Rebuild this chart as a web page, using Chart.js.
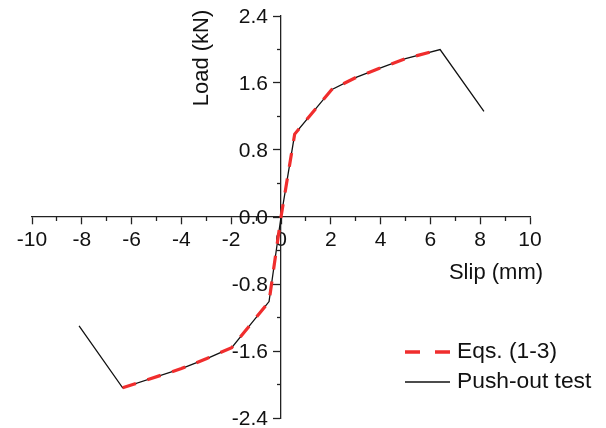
<!DOCTYPE html>
<html><head><meta charset="utf-8">
<script src="https://cdn.jsdelivr.net/npm/chart.js@4"></script>
<style>html,body{margin:0;padding:0;background:#fff}#wrap{width:606px;height:428px}</style>
</head><body><div id="wrap"><canvas id="c" width="606" height="428"></canvas></div>
<script>
// Data
const testSlip = [-8.11, -6.36, -4.0, -2.98, -1.98, -0.48, 0, 0.55, 2.03, 3.04, 4.0, 5.0, 6.39, 8.15];
const testLoad = [-1.30, -2.04, -1.81, -1.69, -1.56, -1.01, 0, 0.99, 1.52, 1.67, 1.78, 1.89, 2.00, 1.26];
const eqSlip = [-6.36, -4.0, -2.98, -1.98, -0.48, 0, 0.55, 2.03, 3.04, 4.0, 5.0, 6.39];
const eqLoad = [-2.04, -1.81, -1.69, -1.56, -1.01, 0, 0.99, 1.52, 1.67, 1.78, 1.89, 2.00];
const xTickValues = [-10, -8, -6, -4, -2, 0, 2, 4, 6, 8, 10];
const xMinorValues = [-9, -7, -5, -3, -1, 1, 3, 5, 7, 9];
const yTickValues = [-2.4, -1.6, -0.8, 0.0, 0.8, 1.6, 2.4];
const yTickLabels = ['-2.4', '-1.6', '-0.8', '0.0', '0.8', '1.6', '2.4'];
const yMinorValues = [-2.0, -1.2, -0.4, 0.4, 1.2, 2.0];
const seriesNames = ['Eqs. (1-3)', 'Push-out test'];
const xTitle = 'Slip (mm)';
const yTitle = 'Load (kN)';

const FONT = '"Liberation Sans", Arial, sans-serif';
const AXIS_COLOR = '#222';
const RED = 'rgb(240,45,45)';

function zeroFit(s) {
  if (s.isHorizontal()) s.height = 0; else s.width = 0;
  s.paddingLeft = s.paddingRight = s.paddingTop = s.paddingBottom = 0;
}
function setTicks(vals) {
  return function (s) { s.ticks = vals.map(v => ({ value: v })); };
}

const annot = {
  id: 'annot',
  afterDraw(chart) {
    const ctx = chart.ctx;
    const xs = chart.scales.x, ys = chart.scales.y;
    ctx.save();
    ctx.fillStyle = '#111';
    // y tick labels, left of the centred y axis
    ctx.font = '21px ' + FONT;
    ctx.textAlign = 'right';
    ctx.textBaseline = 'middle';
    const ax = xs.getPixelForValue(0);
    yTickValues.forEach((v, i) => {
      ctx.fillText(yTickLabels[i], ax - 13, ys.getPixelForValue(v) + 1);
    });
    // axis titles
    ctx.font = '22px ' + FONT;
    ctx.textAlign = 'center';
    ctx.fillText(xTitle, 496, 273);
    ctx.save();
    ctx.translate(202, 58);
    ctx.rotate(-Math.PI / 2);
    ctx.fillText(yTitle, 0, 0);
    ctx.restore();
    // legend
    ctx.font = '22.8px ' + FONT;
    ctx.textAlign = 'left';
    ctx.fillText(seriesNames[0], 457, 352);
    ctx.fillText(seriesNames[1], 457, 382);
    ctx.strokeStyle = RED;
    ctx.lineWidth = 3.5;
    ctx.setLineDash([15, 15]);
    ctx.beginPath(); ctx.moveTo(405, 352); ctx.lineTo(450, 352); ctx.stroke();
    ctx.setLineDash([]);
    ctx.strokeStyle = '#111';
    ctx.lineWidth = 1.5;
    ctx.beginPath(); ctx.moveTo(405, 382); ctx.lineTo(450, 382); ctx.stroke();
    ctx.restore();
  }
};

new Chart(document.getElementById('c'), {
  type: 'line',
  data: {
    datasets: [
      {
        label: seriesNames[0],
        data: eqSlip.map((x, i) => ({ x: x, y: eqLoad[i] })),
        borderColor: RED,
        borderWidth: 3.2,
        borderDash: [14, 12],
        pointRadius: 0,
        tension: 0,
        fill: false,
        xAxisID: 'x', yAxisID: 'y'
      },
      {
        label: seriesNames[1],
        data: testSlip.map((x, i) => ({ x: x, y: testLoad[i] })),
        borderColor: '#111',
        borderWidth: 1.3,
        pointRadius: 0,
        tension: 0,
        fill: false,
        xAxisID: 'x', yAxisID: 'y'
      }
    ]
  },
  options: {
    responsive: false,
    animation: false,
    devicePixelRatio: 1,
    layout: { padding: { left: 32, right: 76, top: 16, bottom: 10 } },
    plugins: { legend: { display: false }, tooltip: { enabled: false } },
    scales: {
      x: {
        type: 'linear', min: -10, max: 10,
        position: { y: 0 },
        afterBuildTicks: setTicks(xTickValues),
        afterFit: zeroFit,
        grid: { drawOnChartArea: false, drawTicks: true, tickLength: 7, tickColor: AXIS_COLOR, tickWidth: 1.3 },
        border: { display: true, color: AXIS_COLOR, width: 1.3 },
        ticks: { autoSkip: false, maxRotation: 0, padding: 4, color: '#111', font: { family: FONT, size: 21 },
          callback: v => String(v) }
      },
      xm: {
        type: 'linear', min: -10, max: 10,
        position: { y: 0 },
        afterBuildTicks: setTicks(xMinorValues),
        afterFit: zeroFit,
        grid: { drawOnChartArea: false, drawTicks: true, tickLength: 4, tickColor: AXIS_COLOR, tickWidth: 1.3 },
        border: { display: false },
        ticks: { display: false, autoSkip: false }
      },
      y: {
        type: 'linear', min: -2.4, max: 2.4,
        position: { x: 0 },
        afterBuildTicks: setTicks(yTickValues),
        afterFit: zeroFit,
        grid: { drawOnChartArea: false, drawTicks: true, tickLength: 7, tickColor: AXIS_COLOR, tickWidth: 1.3 },
        border: { display: true, color: AXIS_COLOR, width: 1.3 },
        ticks: { display: false, autoSkip: false }
      },
      ym: {
        type: 'linear', min: -2.4, max: 2.4,
        position: { x: 0 },
        afterBuildTicks: setTicks(yMinorValues),
        afterFit: zeroFit,
        grid: { drawOnChartArea: false, drawTicks: true, tickLength: 4, tickColor: AXIS_COLOR, tickWidth: 1.3 },
        border: { display: false },
        ticks: { display: false, autoSkip: false }
      }
    }
  },
  plugins: [annot]
});
</script></body></html>
